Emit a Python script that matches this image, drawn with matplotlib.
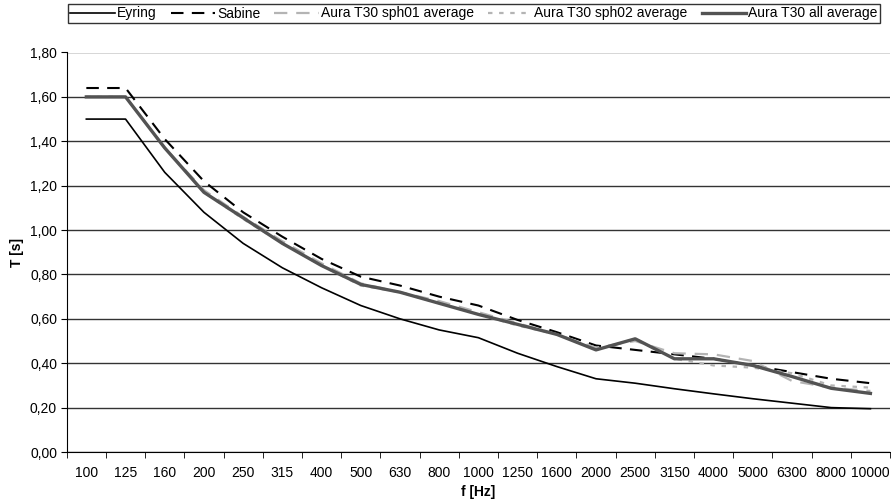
import matplotlib
matplotlib.use("Agg")
import matplotlib.pyplot as plt
import numpy as np

plt.rcParams['font.family'] = ['Liberation Sans Narrow', 'Liberation Sans', 'DejaVu Sans']

# third-octave bands
freqs = ['100', '125', '160', '200', '250', '315', '400', '500', '630', '800', '1000',
         '1250', '1600', '2000', '2500', '3150', '4000', '5000', '6300', '8000', '10000']

eyring = [1.50, 1.50, 1.26, 1.08, 0.94, 0.83, 0.74, 0.66, 0.60, 0.55, 0.515,
          0.445, 0.385, 0.33, 0.31, 0.285, 0.262, 0.24, 0.22, 0.20, 0.195]
sabine = [1.64, 1.64, 1.41, 1.22, 1.08, 0.97, 0.87, 0.79, 0.75, 0.70, 0.66,
          0.595, 0.54, 0.48, 0.46, 0.44, 0.42, 0.39, 0.36, 0.33, 0.31]
sph01 = [1.60, 1.60, 1.37, 1.18, 1.06, 0.95, 0.85, 0.76, 0.72, 0.68, 0.63,
         0.58, 0.53, 0.47, 0.50, 0.445, 0.44, 0.41, 0.32, 0.29, 0.275]
sph02 = [1.60, 1.60, 1.37, 1.17, 1.05, 0.94, 0.84, 0.75, 0.72, 0.67, 0.62,
         0.57, 0.53, 0.46, 0.51, 0.42, 0.39, 0.38, 0.355, 0.30, 0.29]
all_avg = [1.60, 1.60, 1.37, 1.17, 1.055, 0.94, 0.84, 0.755, 0.72, 0.67, 0.62,
           0.575, 0.53, 0.46, 0.51, 0.42, 0.42, 0.39, 0.34, 0.287, 0.264]

yticks = np.arange(0, 1.81, 0.2)

fig = plt.figure(figsize=(8.91, 5.0), dpi=100)
ax = fig.add_axes([0.0749, 0.096, 0.924, 0.799])

x = np.arange(len(freqs))
ax.plot(x, eyring, color='black', lw=1.2, label='Eyring')
ax.plot(x, sabine, color='black', lw=1.5, dashes=(6, 4), label='Sabine')
ax.plot(x, sph01, color='#b4b4b4', lw=1.6, dashes=(6, 4), label='Aura T30 sph01 average')
ax.plot(x, sph02, color='#b4b4b4', lw=1.6, dashes=(2, 3), label='Aura T30 sph02 average')
ax.plot(x, all_avg, color='#535353', lw=2.4, label='Aura T30 all average')

ax.set_xlim(-0.5, len(freqs) - 0.5)
ax.set_ylim(0, 1.8)
ax.set_yticks(yticks)
ax.set_yticklabels([f"{v:.2f}".replace('.', ',') for v in yticks], fontsize=10)
ax.yaxis.grid(True, color='#333333', lw=1)
ax.set_axisbelow(True)

ax.set_xticks(x)
ax.set_xticklabels(freqs, fontsize=10)
ax.set_xticks(np.arange(-0.5, len(freqs), 1), minor=True)
ax.tick_params(axis='x', which='major', length=0, pad=10)
ax.tick_params(axis='x', which='minor', length=4, direction='out', color='black')
ax.tick_params(axis='y', length=4, direction='out', color='black', pad=3)

for s in ['top', 'right']:
    ax.spines[s].set_visible(False)
ax.spines['left'].set_color('black')
ax.spines['bottom'].set_color('black')

ax.set_xlabel('f [Hz]', fontsize=10, fontweight='bold')
ax.set_ylabel('T [s]', fontsize=10, fontweight='bold')
ax.xaxis.set_label_coords(0.5, -0.1, transform=ax.transAxes)
ax.yaxis.set_label_coords(-0.06, 0.5, transform=ax.transAxes)
ax.xaxis.label.set_va('center')
ax.yaxis.label.set_va('center')

leg = fig.legend(loc='center', ncol=5, bbox_to_anchor=(0.076, 0.955, 0.912, 0.036),
                 mode='expand', fontsize=10, frameon=True, fancybox=False,
                 handlelength=3.2, handletextpad=0.15, borderpad=0.2, borderaxespad=0)
leg.get_frame().set_edgecolor('black')
leg.get_frame().set_linewidth(1)

fig.savefig('out.png', dpi=100)
